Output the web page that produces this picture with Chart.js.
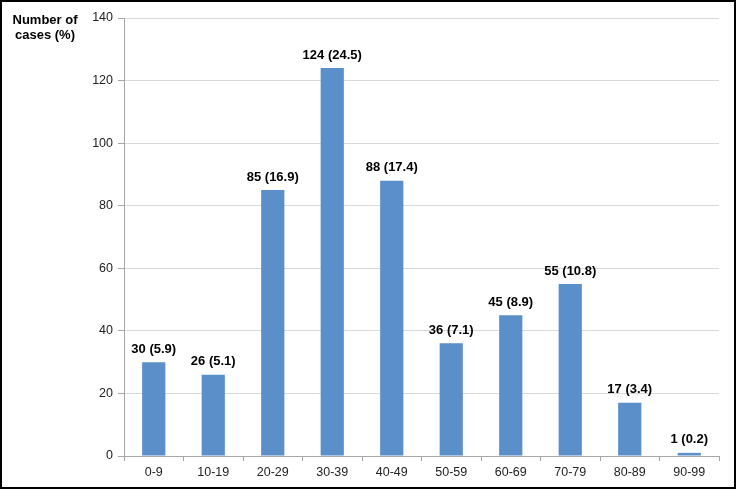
<!DOCTYPE html>
<html>
<head>
<meta charset="utf-8">
<script src="https://cdn.jsdelivr.net/npm/chart.js@4/dist/chart.umd.min.js"></script>
<style>
  html, body { margin: 0; padding: 0; background: #fff; }
  #wrap { width: 736px; height: 489px; position: relative; }
</style>
</head>
<body>
<div id="wrap"><canvas id="chart-age"></canvas></div>
<script>
// age groups and case counts (percent in brackets)
const ageGroups = ["0-9", "10-19", "20-29", "30-39", "40-49", "50-59", "60-69", "70-79", "80-89", "90-99"];
const cases     = [30, 26, 85, 124, 88, 36, 45, 55, 17, 1];
const percents  = [5.9, 5.1, 16.9, 24.5, 17.4, 7.1, 8.9, 10.8, 3.4, 0.2];
const yTicks    = [0, 20, 40, 60, 80, 100, 120, 140];

const FONT = "'Liberation Sans', Arial, sans-serif";

/* ── labels above bars, axis title and outer frame ── */
const decorations = {
  id: "decorations",
  afterDatasetsDraw(chart) {
    const ctx  = chart.ctx;
    const meta = chart.getDatasetMeta(0);
    ctx.save();
    ctx.font = "bold 13px " + FONT;
    ctx.fillStyle = "#000";
    ctx.textAlign = "center";
    ctx.textBaseline = "middle";
    meta.data.forEach((bar, i) => {
      ctx.fillText(cases[i] + " (" + percents[i] + ")", bar.x, bar.y - 13);
    });
    // axis title, top left
    ctx.fillText("Number of", 45, 20);
    ctx.fillText("cases (%)", 45, 35);
    // frame
    ctx.strokeStyle = "#000";
    ctx.lineWidth = 2;
    ctx.strokeRect(1, 1, 734, 487);
    ctx.restore();
  },
};

new Chart(document.getElementById("chart-age"), {
  type: "bar",
  data: {
    labels: ageGroups,
    datasets: [{
      data: cases,
      backgroundColor: "#5B8FC9",
      borderWidth: 0,
      barPercentage: 0.39,
      categoryPercentage: 1,
    }],
  },
  options: {
    responsive: true, maintainAspectRatio: false,
    animation: false,
    layout: { padding: { top: 18, right: 17, bottom: 0, left: 0 } },
    plugins: { legend: { display: false }, tooltip: { enabled: false } },
    scales: {
      x: {
        afterFit: s => { s.height = 33; },
        grid:  { drawOnChartArea: false, drawTicks: true, tickLength: 5, color: "#a6a6a6" },
        border: { color: "#a6a6a6" },
        ticks: { color: "#222", font: { family: FONT, size: 12.5 }, padding: 4, maxRotation: 0 },
      },
      y: {
        min: 0, max: 140,
        afterFit: s => { s.width = 124; },
        afterBuildTicks: s => { s.ticks = yTicks.map(v => ({ value: v })); },
        grid:  { color: "#d9d9d9", tickLength: 6, drawTicks: true, tickColor: "#a6a6a6" },
        border: { color: "#a6a6a6" },
        ticks: { color: "#222", font: { family: FONT, size: 12.5 }, padding: 5 },
      },
    },
  },
  plugins: [decorations],
});
</script>
</body>
</html>
